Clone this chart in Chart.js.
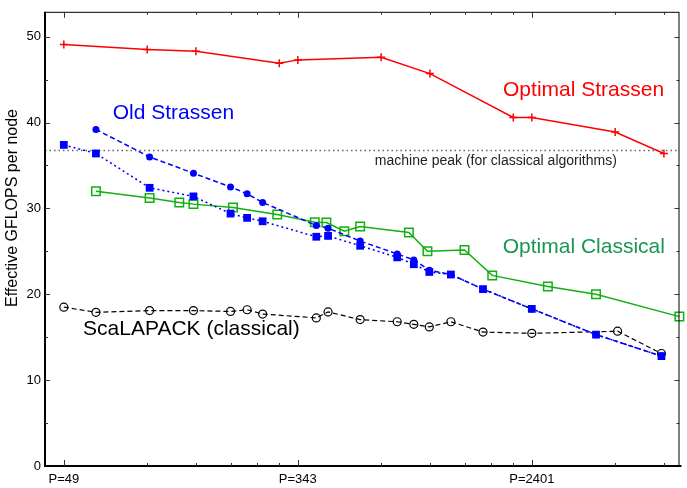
<!DOCTYPE html>
<html>
<head>
<meta charset="utf-8">
<script src="https://cdn.jsdelivr.net/npm/chart.js@4/dist/chart.umd.min.js"></script>
<style>
  html, body { margin: 0; padding: 0; background: #fff; }
</style>
</head>
<body>
<canvas id="c" width="687" height="488"></canvas>
<script>
// processor counts (x) and effective GFLOPS per node (y)
const strassenP = [49, 98, 147, 294, 343, 686, 1029, 2058, 2401, 4802, 7203]
const strassenGflops = [49.1, 48.5, 48.3, 46.9, 47.3, 47.6, 45.7, 40.6, 40.6, 38.9, 36.4]

const oldCircleP = [64, 100, 144, 196, 225, 256, 400, 441, 576, 784, 900, 1024, 1225, 1600, 2401, 4096, 7056]
const oldCircleGflops = [39.2, 36.0, 34.1, 32.5, 31.7, 30.7, 28.0, 27.7, 26.2, 24.7, 24.0, 22.8, 22.3, 20.6, 18.3, 15.3, 12.8]

const oldSquareP = [49, 64, 100, 144, 196, 225, 256, 400, 441, 576, 784, 900, 1024, 1225, 1600, 2401, 4096, 7056]
const oldSquareGflops = [37.4, 36.4, 32.4, 31.4, 29.4, 28.9, 28.5, 26.7, 26.8, 25.65, 24.3, 23.5, 22.6, 22.3, 20.6, 18.3, 15.3, 12.8]

const classicalP = [64, 100, 128, 144, 200, 289, 395, 435, 505, 576, 864, 1008, 1372, 1728, 2744, 4096, 8192]
const classicalGflops = [32.0, 31.2, 30.7, 30.5, 30.1, 29.3, 28.4, 28.35, 27.35, 27.9, 27.2, 25.0, 25.15, 22.2, 20.9, 20.0, 17.4]

const scalapackP = [49, 64, 100, 144, 196, 225, 256, 400, 441, 576, 784, 900, 1024, 1225, 1600, 2401, 4900, 7056]
const scalapackGflops = [18.5, 17.9, 18.1, 18.1, 18.0, 18.2, 17.7, 17.25, 17.95, 17.05, 16.8, 16.5, 16.2, 16.8, 15.6, 15.45, 15.7, 13.1]

const MACHINE_PEAK = 36.75

const xMajorTicks = [49, 343, 2401]
const xMinorTicks = [98, 147, 196, 245, 294, 686, 1029, 1372, 1715, 2058, 4802, 7203]
const yMajorTicks = [0, 10, 20, 30, 40, 50]
const yMinorTicks = [5, 15, 25, 35, 45]

// text labels anchored in data coordinates: [text, P, gflops]
const labels = [
    ['Optimal Strassen', 1890, 43.1, '#ff0000', 21],
    ['Old Strassen', 73.6, 40.45, '#0000ff', 21],
    ['Optimal Classical', 1885, 24.85, '#1a9650', 21],
    ['ScaLAPACK (classical)', 57.5, 15.3, '#000000', 21],
    ['machine peak (for classical algorithms)', 651, 35.1, '#222222', 14]
]

const FONT = '"Liberation Sans", Arial, Helvetica, sans-serif'

function pts(xs, ys) {
    return xs.map((x, i) => ({ x: x, y: ys[i] }))
}

const decorations = {
    id: 'decorations',
    beforeDatasetsDraw(chart) {
        const ctx = chart.ctx
        const a = chart.chartArea
        const py = chart.scales.y.getPixelForValue(MACHINE_PEAK)
        ctx.save()
        ctx.strokeStyle = '#666'
        ctx.lineWidth = 1.5
        ctx.setLineDash([1.5, 3])
        ctx.beginPath()
        ctx.moveTo(a.left, py)
        ctx.lineTo(a.right, py)
        ctx.stroke()
        ctx.restore()
    },
    afterDatasetsDraw(chart) {
        const ctx = chart.ctx
        const a = chart.chartArea
        const xs = chart.scales.x
        const ys = chart.scales.y
        ctx.save()

        // frame
        ctx.strokeStyle = '#000'
        ctx.lineWidth = 1
        ctx.strokeRect(a.left + 0.5, a.top + 0.5, a.right - a.left - 1, a.bottom - a.top)
        ctx.lineWidth = 2
        ctx.beginPath()
        ctx.moveTo(a.left, a.top)
        ctx.lineTo(a.left, a.bottom)
        ctx.lineTo(a.right + 2, a.bottom)
        ctx.stroke()

        // inward tick marks on all four sides
        ctx.strokeStyle = '#333'
        ctx.lineWidth = 1
        const xTick = (v, len) => {
            const px = Math.round(xs.getPixelForValue(v)) + 0.5
            ctx.beginPath()
            ctx.moveTo(px, a.bottom)
            ctx.lineTo(px, a.bottom - len)
            ctx.moveTo(px, a.top)
            ctx.lineTo(px, a.top + len)
            ctx.stroke()
        }
        const yTick = (v, len) => {
            const py = Math.round(ys.getPixelForValue(v)) + 0.5
            ctx.beginPath()
            ctx.moveTo(a.left, py)
            ctx.lineTo(a.left + len, py)
            ctx.moveTo(a.right, py)
            ctx.lineTo(a.right - len, py)
            ctx.stroke()
        }
        xMajorTicks.forEach(v => xTick(v, 6))
        xMinorTicks.forEach(v => xTick(v, 3))
        yMajorTicks.slice(1).forEach(v => yTick(v, 5))
        yMinorTicks.forEach(v => yTick(v, 3))

        // annotations
        ctx.textBaseline = 'alphabetic'
        ctx.textAlign = 'left'
        labels.forEach(([text, p, g, color, size]) => {
            ctx.fillStyle = color
            ctx.font = size + 'px ' + FONT
            ctx.fillText(text, xs.getPixelForValue(p), ys.getPixelForValue(g))
        })

        // y axis title
        ctx.translate(13, 208)
        ctx.rotate(-Math.PI / 2)
        ctx.textAlign = 'center'
        ctx.textBaseline = 'middle'
        ctx.fillStyle = '#000'
        ctx.font = '16px ' + FONT
        ctx.fillText('Effective GFLOPS per node', 0, 0)
        ctx.restore()
    }
}

new Chart(document.getElementById('c'), {
    type: 'line',
    data: {
        datasets: [
            {
                data: pts(strassenP, strassenGflops),
                borderColor: '#ff0000',
                borderWidth: 1.5,
                pointStyle: 'cross',
                pointRadius: 4,
                pointBorderWidth: 1.5,
                pointBorderColor: '#ff0000',
                order: 1
            },
            {
                data: pts(oldSquareP, oldSquareGflops),
                borderColor: '#0000ff',
                borderWidth: 1.5,
                borderDash: [2, 3],
                pointStyle: 'rect',
                pointRadius: 5.5,
                pointBorderWidth: 0,
                pointBackgroundColor: '#0000ff',
                order: 2
            },
            {
                data: pts(oldCircleP, oldCircleGflops),
                borderColor: '#0000ff',
                borderWidth: 1.5,
                borderDash: [5, 3],
                pointStyle: 'circle',
                pointRadius: 3.5,
                pointBorderWidth: 0,
                pointBackgroundColor: '#0000ff',
                order: 3
            },
            {
                data: pts(classicalP, classicalGflops),
                borderColor: '#11b011',
                borderWidth: 1.5,
                pointStyle: 'rect',
                pointRadius: 6,
                pointBorderWidth: 1.5,
                pointBorderColor: '#11b011',
                pointBackgroundColor: 'rgba(0,0,0,0)',
                order: 4
            },
            {
                data: pts(scalapackP, scalapackGflops),
                borderColor: '#000000',
                borderWidth: 1.2,
                borderDash: [5, 3],
                pointStyle: 'circle',
                pointRadius: 4,
                pointBorderWidth: 1.2,
                pointBorderColor: '#000000',
                pointBackgroundColor: 'rgba(0,0,0,0)',
                order: 5
            }
        ]
    },
    options: {
        responsive: false,
        animation: false,
        devicePixelRatio: 1,
        clip: false,
        layout: { padding: { top: 8, right: 2, left: 0, bottom: 0 } },
        elements: { line: { tension: 0, fill: false } },
        plugins: { legend: { display: false }, tooltip: { enabled: false } },
        scales: {
            x: {
                type: 'logarithmic',
                min: 41.9,
                max: 8200,
                afterBuildTicks: s => { s.ticks = xMajorTicks.map(v => ({ value: v })) },
                afterFit: s => { s.height = 22 },
                grid: { display: false, drawTicks: false },
                border: { display: false },
                ticks: {
                    autoSkip: false,
                    maxRotation: 0,
                    padding: 6,
                    color: '#000',
                    font: { family: FONT, size: 13 },
                    callback: v => 'P=' + v
                }
            },
            y: {
                min: 0,
                max: 52.9,
                afterBuildTicks: s => { s.ticks = yMajorTicks.map(v => ({ value: v })) },
                afterFit: s => { s.width = 45 },
                grid: { display: false, drawTicks: false },
                border: { display: false },
                ticks: {
                    padding: 4,
                    color: '#000',
                    font: { family: FONT, size: 13 }
                }
            }
        }
    },
    plugins: [decorations]
})
</script>
</body>
</html>
